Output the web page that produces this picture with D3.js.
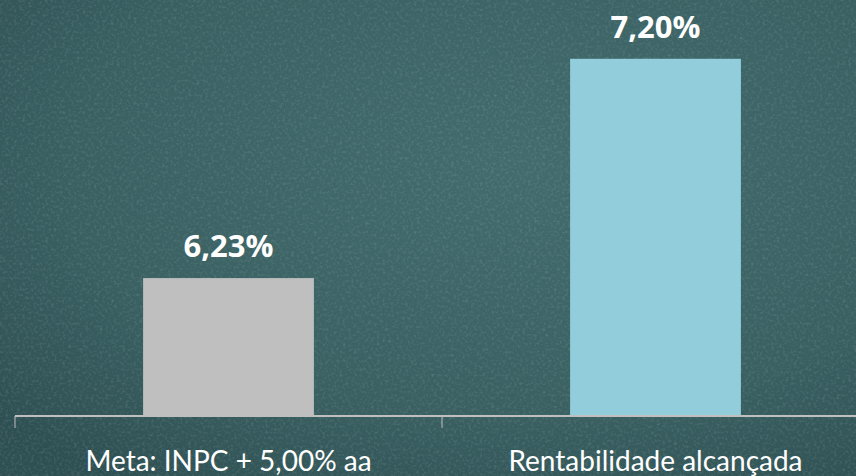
<!DOCTYPE html>
<html>
<head>
<meta charset="utf-8">
<script src="https://cdn.jsdelivr.net/npm/d3@7"></script>
<style>
  body { margin: 0; background: #3b5f61; }
  svg { display: block; }
</style>
</head>
<body>
<div id="chart"></div>
<script>
var width = 856, height = 476

var categories = ["Meta: INPC + 5,00% aa", "Rentabilidade alcançada"]
var values = [6.23, 7.20]
var valueLabels = ["6,23%", "7,20%"]
var barColors = ["#bfbfbf", "#92cddc"]
// value axis does not start at zero (Excel auto min)
var yDomain = [5.62, 7.46]

var svg = d3.select("#chart")
  .append("svg")
    .attr("width", width)
    .attr("height", height)

var defs = svg.append("defs")

var grad = defs.append("radialGradient")
  .attr("id", "board")
  .attr("cx", "60%").attr("cy", "35%").attr("r", "80%")
grad.append("stop").attr("offset", "0%").attr("stop-color", "#436b6d")
grad.append("stop").attr("offset", "65%").attr("stop-color", "#3a6062")
grad.append("stop").attr("offset", "100%").attr("stop-color", "#2f5053")

var noise = defs.append("filter").attr("id", "chalk")
  .attr("x", 0).attr("y", 0).attr("width", "100%").attr("height", "100%")
noise.append("feTurbulence")
  .attr("type", "fractalNoise")
  .attr("baseFrequency", 0.35)
  .attr("numOctaves", 3)
  .attr("seed", 7)
noise.append("feColorMatrix")
  .attr("type", "matrix")
  .attr("values", "0 0 0 0 0.75  0 0 0 0 0.88  0 0 0 0 0.88  0.9 0 0 0 -0.42")

svg.append("rect")
  .attr("width", width).attr("height", height)
  .attr("fill", "url(#board)")
svg.append("rect")
  .attr("width", width).attr("height", height)
  .attr("filter", "url(#chalk)")
  .attr("opacity", 0.35)

var x = d3.scaleBand()
  .domain(categories)
  .range([15, 869])
  .padding(0)

var y = d3.scaleLinear()
  .domain(yDomain)
  .range([416, 0])

var barW = x.bandwidth() * 0.4

svg.selectAll("rect.bar")
  .data(values)
  .enter()
  .append("rect")
    .attr("class", "bar")
    .attr("x", function(d, i) { return x(categories[i]) + (x.bandwidth() - barW) / 2 })
    .attr("y", function(d) { return y(d) })
    .attr("width", barW)
    .attr("height", function(d) { return y(yDomain[0]) - y(d) })
    .attr("fill", function(d, i) { return barColors[i] })

svg.selectAll("text.value")
  .data(values)
  .enter()
  .append("text")
    .attr("class", "value")
    .attr("x", function(d, i) { return x(categories[i]) + x.bandwidth() / 2 })
    .attr("y", function(d) { return y(d) - 21 })
    .attr("text-anchor", "middle")
    .style("font-family", "'Open Sans', sans-serif")
    .style("font-weight", "bold")
    .style("font-size", "31px")
    .style("fill", "#ffffff")
    .text(function(d, i) { return valueLabels[i] })

// category axis, Excel style: ticks between categories
var axis = svg.append("g")
axis.append("line")
  .attr("x1", x.range()[0]).attr("x2", width)
  .attr("y1", y(yDomain[0])).attr("y2", y(yDomain[0]))
  .attr("stroke", "#bfbfbf")
  .attr("stroke-width", 2)
axis.selectAll("line.tick")
  .data(categories)
  .enter()
  .append("line")
    .attr("class", "tick")
    .attr("x1", function(d) { return x(d) }).attr("x2", function(d) { return x(d) })
    .attr("y1", y(yDomain[0])).attr("y2", y(yDomain[0]) + 12)
    .attr("stroke", "#bfbfbf")
    .attr("stroke-width", 1)

axis.selectAll("text")
  .data(categories)
  .enter()
  .append("text")
    .attr("x", function(d) { return x(d) + x.bandwidth() / 2 })
    .attr("y", 471)
    .attr("text-anchor", "middle")
    .style("font-family", "Lato, sans-serif")
    .style("font-size", "28px")
    .style("fill", "#ffffff")
    .text(function(d) { return d })
</script>
</body>
</html>
